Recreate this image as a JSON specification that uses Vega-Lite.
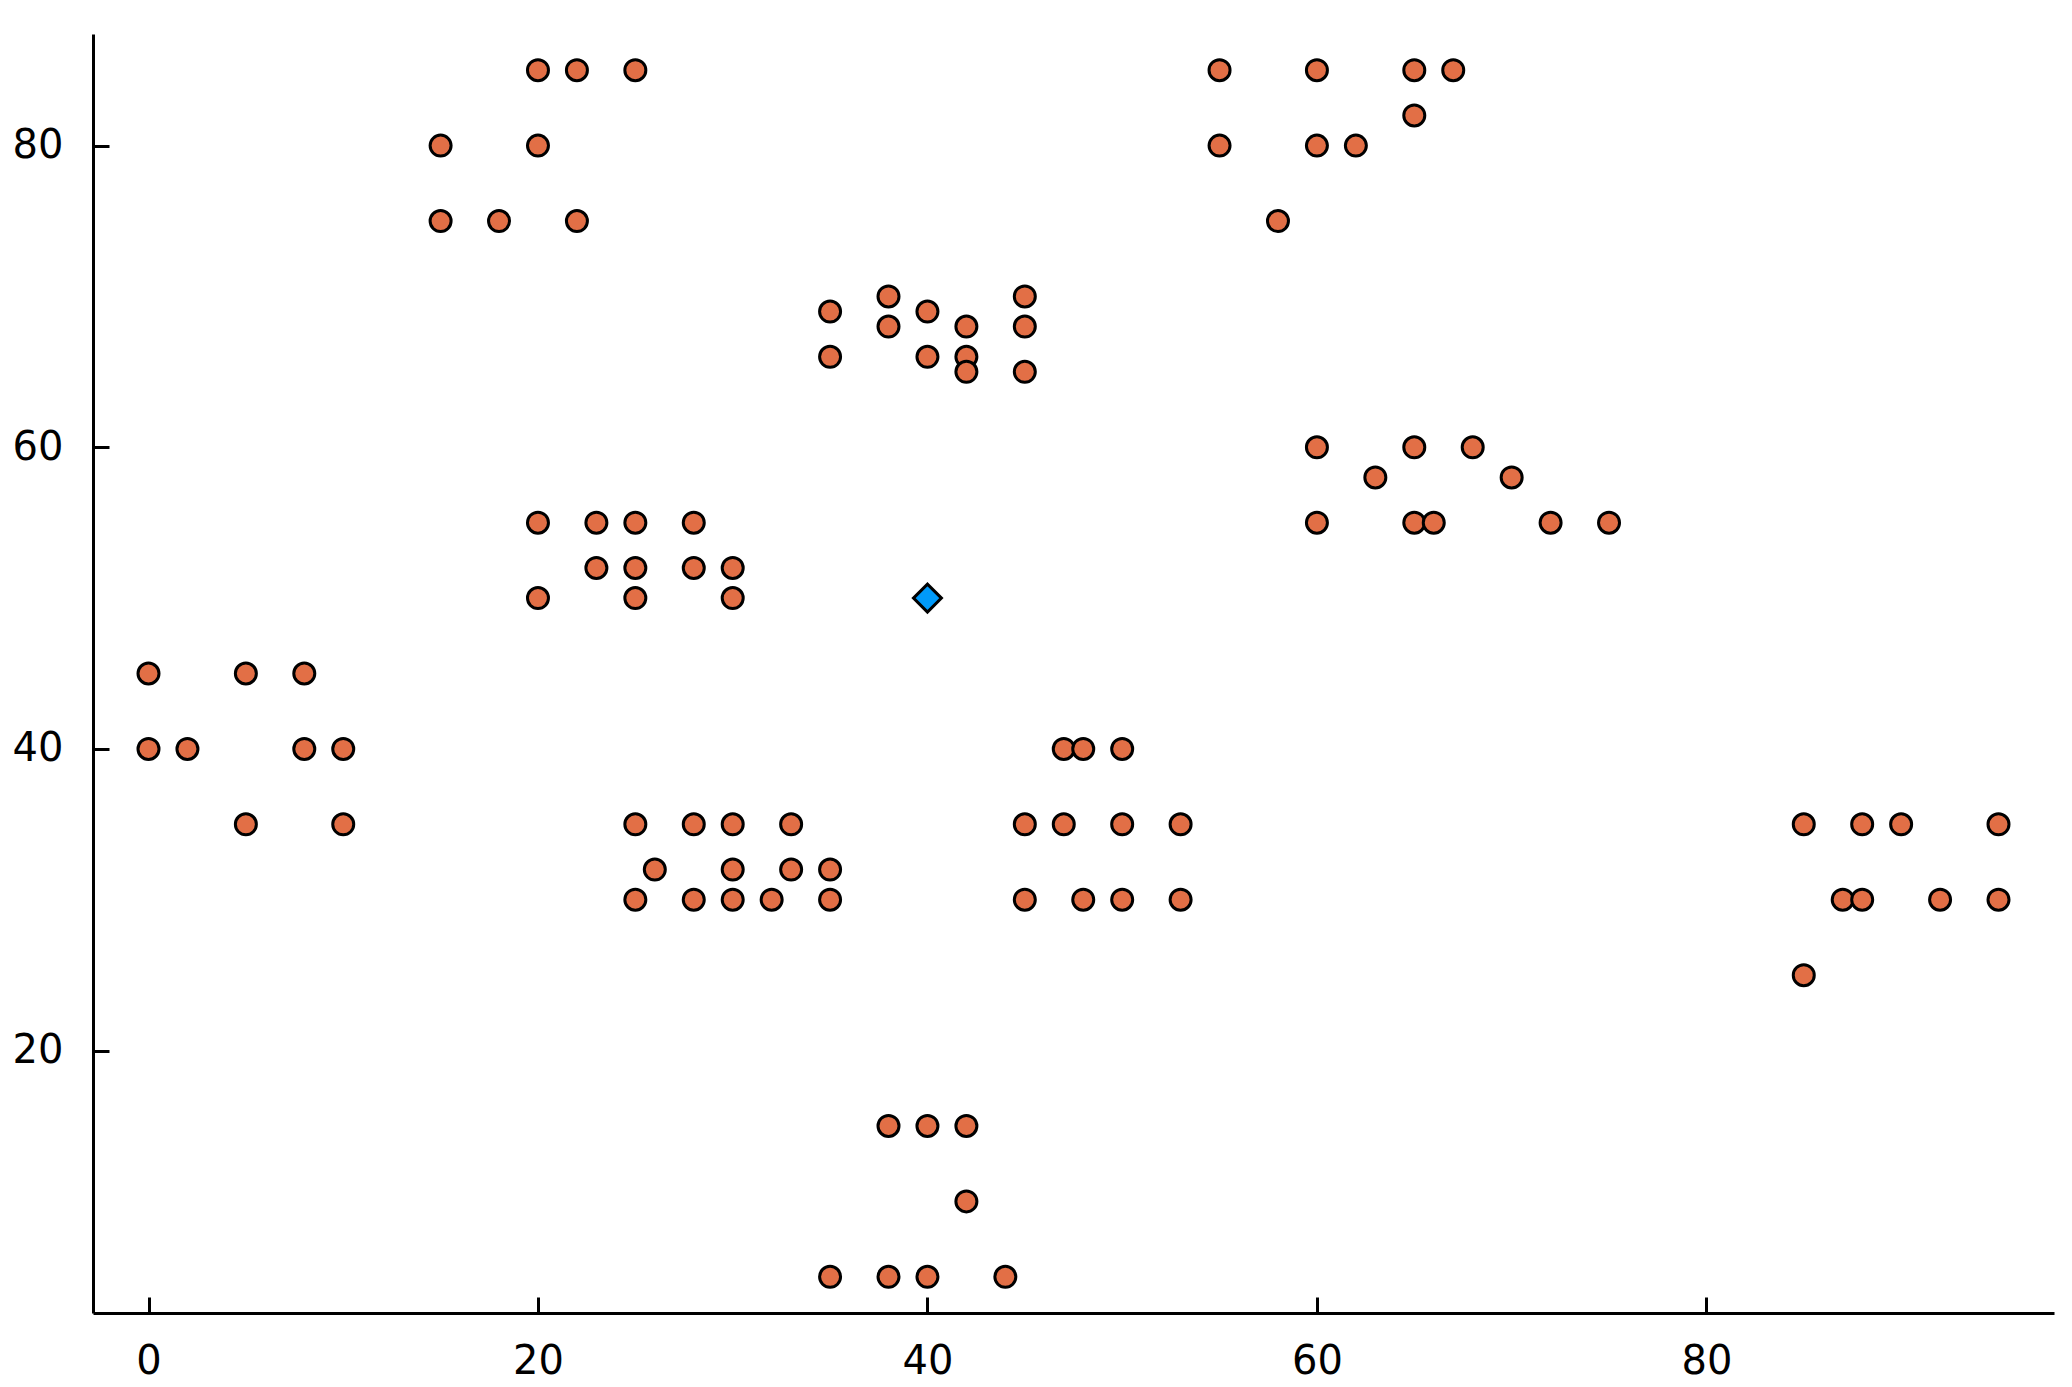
{
  "$schema": "https://vega.github.io/schema/vega-lite/v6.json",
  "autosize": "none",
  "width": 1961,
  "height": 1279,
  "padding": {"left": 93, "top": 34, "right": 18, "bottom": 74},
  "background": "white",
  "config": {
    "view": {"stroke": null},
    "axis": {
      "grid": false,
      "title": null,
      "domainColor": "black",
      "domainWidth": 3,
      "tickColor": "black",
      "tickWidth": 3,
      "tickSize": -16,
      "labelFont": "DejaVu Sans",
      "labelFontSize": 40,
      "labelColor": "black"
    }
  },
  "datasets": {
    "points": [
      {"x": 15, "y": 80}, {"x": 15, "y": 75}, {"x": 18, "y": 75}, {"x": 20, "y": 85},
      {"x": 20, "y": 80}, {"x": 22, "y": 85}, {"x": 22, "y": 75}, {"x": 25, "y": 85},
      {"x": 55, "y": 85}, {"x": 55, "y": 80}, {"x": 58, "y": 75}, {"x": 60, "y": 85},
      {"x": 60, "y": 80}, {"x": 62, "y": 80}, {"x": 65, "y": 85}, {"x": 65, "y": 82},
      {"x": 67, "y": 85},
      {"x": 35, "y": 69}, {"x": 35, "y": 66}, {"x": 38, "y": 70}, {"x": 38, "y": 68},
      {"x": 40, "y": 69}, {"x": 40, "y": 66}, {"x": 42, "y": 68}, {"x": 42, "y": 66},
      {"x": 42, "y": 65}, {"x": 45, "y": 70}, {"x": 45, "y": 68}, {"x": 45, "y": 65},
      {"x": 60, "y": 60}, {"x": 60, "y": 55}, {"x": 63, "y": 58}, {"x": 65, "y": 60},
      {"x": 65, "y": 55}, {"x": 66, "y": 55}, {"x": 68, "y": 60}, {"x": 70, "y": 58},
      {"x": 72, "y": 55}, {"x": 75, "y": 55},
      {"x": 20, "y": 55}, {"x": 20, "y": 50}, {"x": 23, "y": 55}, {"x": 23, "y": 52},
      {"x": 25, "y": 55}, {"x": 25, "y": 52}, {"x": 25, "y": 50}, {"x": 28, "y": 55},
      {"x": 28, "y": 52}, {"x": 30, "y": 52}, {"x": 30, "y": 50},
      {"x": 0, "y": 45}, {"x": 0, "y": 40}, {"x": 2, "y": 40}, {"x": 5, "y": 45},
      {"x": 5, "y": 35}, {"x": 8, "y": 45}, {"x": 8, "y": 40}, {"x": 10, "y": 40},
      {"x": 10, "y": 35},
      {"x": 25, "y": 35}, {"x": 25, "y": 30}, {"x": 26, "y": 32}, {"x": 28, "y": 35},
      {"x": 28, "y": 30}, {"x": 30, "y": 35}, {"x": 30, "y": 32}, {"x": 30, "y": 30},
      {"x": 32, "y": 30}, {"x": 33, "y": 35}, {"x": 33, "y": 32}, {"x": 35, "y": 32},
      {"x": 35, "y": 30},
      {"x": 45, "y": 35}, {"x": 45, "y": 30}, {"x": 47, "y": 40}, {"x": 47, "y": 35},
      {"x": 48, "y": 40}, {"x": 48, "y": 30}, {"x": 50, "y": 40}, {"x": 50, "y": 35},
      {"x": 50, "y": 30}, {"x": 53, "y": 35}, {"x": 53, "y": 30},
      {"x": 85, "y": 35}, {"x": 85, "y": 25}, {"x": 87, "y": 30}, {"x": 88, "y": 35},
      {"x": 88, "y": 30}, {"x": 90, "y": 35}, {"x": 92, "y": 30}, {"x": 95, "y": 35},
      {"x": 95, "y": 30},
      {"x": 35, "y": 5}, {"x": 38, "y": 15}, {"x": 38, "y": 5}, {"x": 40, "y": 15},
      {"x": 40, "y": 5}, {"x": 42, "y": 15}, {"x": 42, "y": 10}, {"x": 44, "y": 5}
    ],
    "center": [{"x": 40, "y": 50}]
  },
  "layer": [
    {
      "data": {"name": "points"},
      "mark": {"type": "point", "shape": "circle", "filled": true, "fill": "#e26f46", "stroke": "black", "strokeWidth": 3, "size": 441, "opacity": 1},
      "encoding": {
        "x": {"field": "x", "type": "quantitative", "scale": {"domain": [-2.85, 97.85], "nice": false, "zero": false},
              "axis": {"values": [0, 20, 40, 60, 80], "labelPadding": 44}},
        "y": {"field": "y", "type": "quantitative", "scale": {"domain": [2.6, 87.4], "nice": false, "zero": false},
              "axis": {"values": [20, 40, 60, 80], "labelPadding": 46}}
      }
    },
    {
      "data": {"name": "center"},
      "mark": {"type": "point", "shape": "diamond", "filled": true, "fill": "#009afa", "stroke": "black", "strokeWidth": 3, "size": 784, "opacity": 1},
      "encoding": {
        "x": {"field": "x", "type": "quantitative"},
        "y": {"field": "y", "type": "quantitative"}
      }
    }
  ]
}
